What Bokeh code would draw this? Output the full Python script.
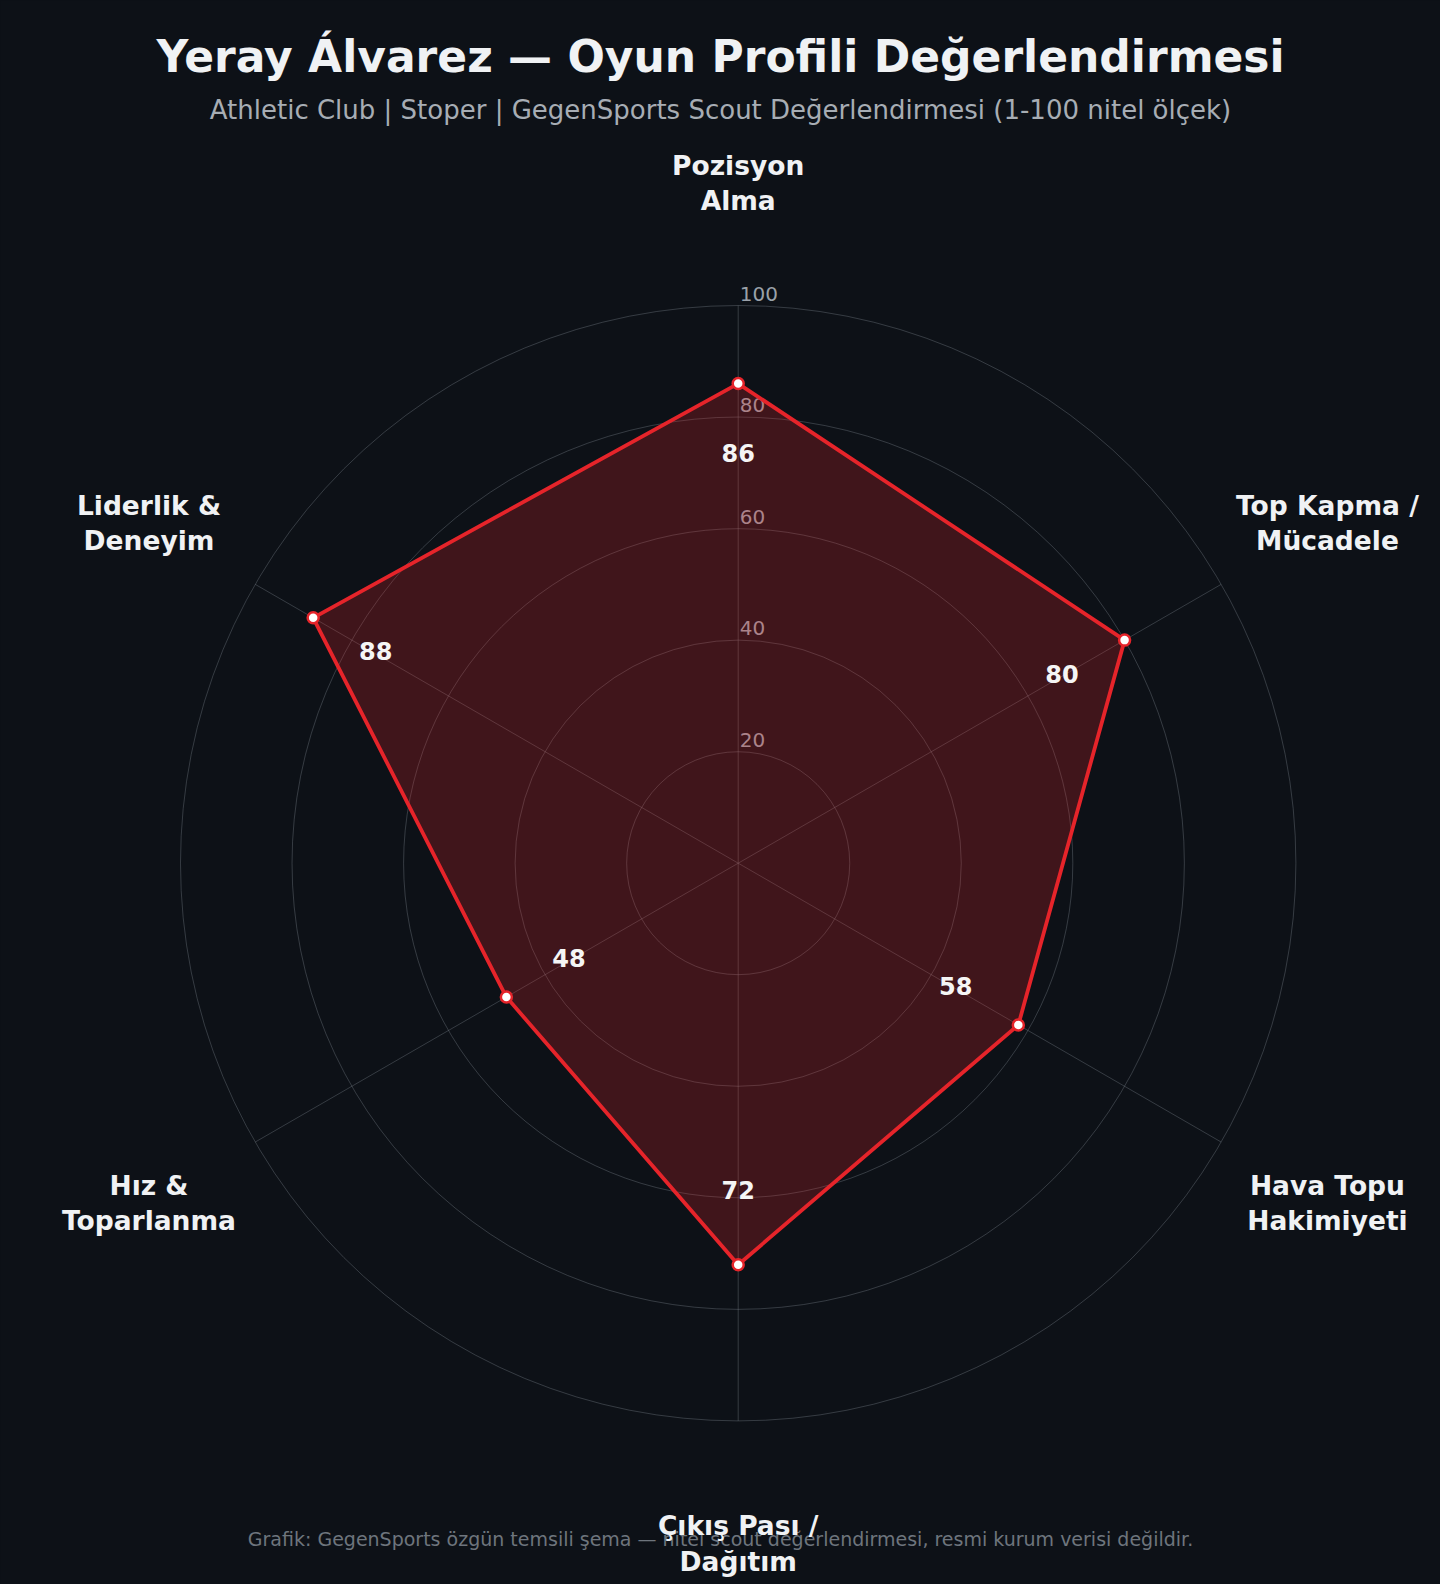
import math
from bokeh.plotting import figure
from bokeh.models import Range1d
from bokeh.core.properties import value
from bokeh.embed import file_html
from bokeh.resources import INLINE

# ---------------- data ----------------
categories = ["Pozisyon\nAlma", "Top Kapma /\nMücadele", "Hava Topu\nHakimiyeti",
              "Çıkış Pası /\nDağıtım", "Hız &\nToparlanma", "Liderlik &\nDeneyim"]
scores = [86, 80, 58, 72, 48, 88]
ring_ticks = [20, 40, 60, 80, 100]
tick_labels = ["20", "40", "60", "80", "100"]
r_max = 100

title_text = "Yeray Álvarez — Oyun Profili Değerlendirmesi"
subtitle_text = "Athletic Club | Stoper | GegenSports Scout Değerlendirmesi (1-100 nitel ölçek)"
footer_text = "Grafik: GegenSports özgün temsili şema — nitel scout değerlendirmesi, resmi kurum verisi değildir."

# ---------------- layout helpers ----------------
BG = "#0d1117"
RED = "#e6242a"
FONT = "DejaVu Sans"
CX, CY, S = 737.7, 862.7, 5.577   # polar centre on the page and px per unit
W, H = 1440, 1584
OFF = 0                            # page offset of the figure


def px(X, Y):
    return (X - CX) / S, (CY - Y) / S


p = figure(width=W, height=H, output_backend="svg", toolbar_location=None,
           x_range=Range1d((OFF - CX) / S, (OFF + W - CX) / S),
           y_range=Range1d((CY - OFF - H) / S, (CY - OFF) / S),
           min_border=0, background_fill_color=BG, border_fill_color=BG)
p.axis.visible = False
p.grid.visible = False
p.outline_line_color = None

n = len(categories)
angles = [2 * math.pi * i / n for i in range(n)]

# grid rings
p.circle(x=[0] * len(ring_ticks), y=[0] * len(ring_ticks), radius=ring_ticks,
         fill_color=None, line_color="#8b949e", line_alpha=0.32, line_width=1)
# spokes
p.segment(x0=[0] * n, y0=[0] * n,
          x1=[r_max * math.sin(a) for a in angles],
          y1=[r_max * math.cos(a) for a in angles],
          line_color="#8b949e", line_alpha=0.32, line_width=1)
# radial tick labels
p.text(x=[0.29] * len(ring_ticks), y=[t + 2.1 for t in ring_ticks], text=tick_labels,
       text_font=value(FONT), text_font_size="20px", text_color="#9aa1a9",
       text_align="left", text_baseline="middle")

# polygon
xs = [s * math.sin(a) for s, a in zip(scores, angles)]
ys = [s * math.cos(a) for s, a in zip(scores, angles)]
p.patch(x=xs + [xs[0]], y=ys + [ys[0]], fill_color=RED, fill_alpha=0.24,
        line_color=RED, line_width=3.8, line_join="round")
p.scatter(x=xs, y=ys, size=11, fill_color="white", line_color=RED, line_width=2.5)

# value labels (slightly inside each point)
lab_r = [s - 12.95 for s in scores]
lift = 2.6 / S
p.text(x=[r * math.sin(a) for r, a in zip(lab_r, angles)],
       y=[r * math.cos(a) + lift for r, a in zip(lab_r, angles)],
       text=[str(s) for s in scores], text_font=value(FONT), text_font_style="bold",
       text_font_size="24px", text_color="#f5f5f5", text_align="center",
       text_baseline="middle")

# title / subtitle / footer
tx, ty = px(720, 56)
p.text(x=[tx], y=[ty], text=[title_text], text_font=value(FONT), text_font_style="bold",
       text_font_size="44px", text_color="#f0f2f4", text_align="center", text_baseline="middle")
sx, sy = px(720, 109)
p.text(x=[sx], y=[sy], text=[subtitle_text], text_font=value(FONT),
       text_font_size="26px", text_color="#a7adb4", text_align="center", text_baseline="middle")
fx, fy = px(720, 1538)
p.text(x=[fx], y=[fy], text=[footer_text], text_font=value(FONT),
       text_font_size="19px", text_color="#6e757d", text_align="center", text_baseline="middle")

# axis category labels (two lines each)
label_r = 122
half_gap = 17.6 / S
lx, ly, lt = [], [], []
for cat, a in zip(categories, angles):
    lines = cat.split("\n")
    cx = label_r * math.sin(a)
    cy = label_r * math.cos(a)
    k = len(lines)
    for j, line in enumerate(lines):
        off = (k - 1) / 2 - j
        lx.append(cx)
        ly.append(cy + off * 2 * half_gap)
        lt.append(line)
p.text(x=lx, y=ly, text=lt, text_font=value(FONT), text_font_style="bold",
       text_font_size="26.5px", text_color="#f0f2f4", text_align="center",
       text_baseline="middle")

html = None
try:
    from bokeh.core.templates import get_env
    tmpl = get_env().from_string(
        '{% extends "file.html" %}{% block preamble %}'
        '<style>html, body { background: #0d1117; }</style>{% endblock %}')
    html = file_html(p, INLINE, title="Yeray Álvarez", template=tmpl)
except Exception:
    html = file_html(p, INLINE, title="Yeray Álvarez")

open("out.html", "w").write(html)
